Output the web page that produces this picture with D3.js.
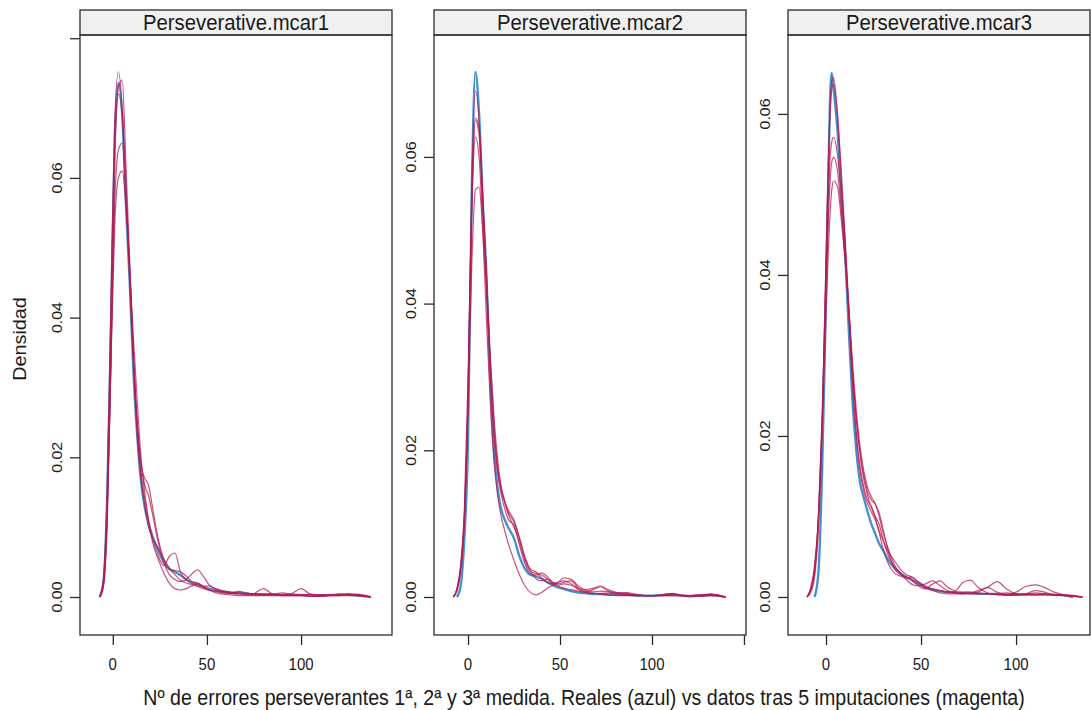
<!DOCTYPE html>
<html><head><meta charset="utf-8">
<script src="https://cdn.jsdelivr.net/npm/d3@7"></script>
<style>
body{margin:0;background:#fff}
text{font-family:"Liberation Sans",Arial,Helvetica,sans-serif;fill:#1a1a1a}
</style>
</head><body>
<svg id="chart" width="1091" height="710"></svg>
<script>
// ---------------- DATA ----------------
const panelNames = ["Perseverative.mcar1", "Perseverative.mcar2", "Perseverative.mcar3"];

// Panel 1: evaluation grid, observed density, 5 imputed densities
const gridMcar1 = [-7,-5,-3,-1,1,3,5,7,9,11,13,15,17,19,21,24,27,30,33,36,39,42,45,48,51,55,59,63,67,71,75,80,85,90,95,100,105,110,115,120,125,130,137];
const obsMcar1 = [0,0.0020,0.0140,0.0380,0.0650,0.0736,0.0690,0.0560,0.0450,0.0320,0.0230,0.0165,0.0128,0.0105,0.0088,0.0068,0.0050,0.0040,0.0036,0.0031,0.0025,0.0020,0.0019,0.0015,0.0012,0.0010,0.0008,0.0006,0.0006,0.0005,0.0004,0.0004,0.0004,0.0003,0.0003,0.0003,0.0002,0.0002,0.0003,0.0003,0.0003,0.0002,0];
const impMcar1_1 = [0,0.0025,0.0150,0.0420,0.0680,0.0752,0.0700,0.0580,0.0450,0.0330,0.0240,0.0180,0.0140,0.0110,0.0085,0.0060,0.0045,0.0058,0.0063,0.0035,0.0025,0.0022,0.0020,0.0015,0.0010,0.0008,0.0006,0.0005,0.0004,0.0004,0.0005,0.0012,0.0004,0.0002,0.0002,0.0002,0.0001,0.0001,0.0002,0.0004,0.0005,0.0003,0];
const impMcar1_2 = [0,0.0018,0.0110,0.0330,0.0560,0.0640,0.0650,0.0580,0.0470,0.0350,0.0250,0.0190,0.0160,0.0145,0.0120,0.0080,0.0050,0.0032,0.0025,0.0022,0.0025,0.0033,0.0039,0.0030,0.0018,0.0010,0.0008,0.0006,0.0005,0.0004,0.0004,0.0004,0.0003,0.0003,0.0005,0.0012,0.0004,0.0002,0.0002,0.0002,0.0003,0.0004,0];
const impMcar1_3 = [0,0.0020,0.0120,0.0330,0.0530,0.0600,0.0610,0.0560,0.0470,0.0370,0.0280,0.0200,0.0150,0.0110,0.0080,0.0055,0.0035,0.0020,0.0012,0.0010,0.0012,0.0016,0.0018,0.0014,0.0010,0.0006,0.0004,0.0003,0.0002,0.0002,0.0002,0.0002,0.0002,0.0002,0.0002,0.0002,0.0001,0.0001,0.0002,0.0002,0.0004,0.0003,0];
const impMcar1_4 = [0,0.0022,0.0140,0.0400,0.0650,0.0720,0.0690,0.0580,0.0460,0.0340,0.0250,0.0190,0.0170,0.0160,0.0130,0.0085,0.0055,0.0040,0.0038,0.0036,0.0030,0.0022,0.0016,0.0015,0.0016,0.0012,0.0008,0.0007,0.0006,0.0004,0.0003,0.0003,0.0004,0.0006,0.0004,0.0003,0.0004,0.0003,0.0003,0.0002,0.0002,0.0002,0];
const impMcar1_5 = [0,0.0015,0.0100,0.0340,0.0620,0.0730,0.0740,0.0620,0.0480,0.0340,0.0230,0.0170,0.0130,0.0100,0.0085,0.0070,0.0055,0.0042,0.0032,0.0024,0.0020,0.0018,0.0015,0.0012,0.0010,0.0008,0.0006,0.0006,0.0008,0.0006,0.0004,0.0003,0.0003,0.0003,0.0003,0.0003,0.0003,0.0003,0.0003,0.0004,0.0003,0.0002,0];

// Panel 2
const gridMcar2 = [-8,-6,-4,-2,0,2,4,6,8,10,12,14,16,18,20,22,25,28,31,34,37,40,43,46,49,52,56,60,64,68,72,76,81,86,91,96,101,106,111,116,121,126,132,140];
const obsMcar2 = [null,0,0.0015,0.0080,0.0210,0.0550,0.0716,0.0660,0.0540,0.0440,0.0300,0.0200,0.0150,0.0120,0.0105,0.0094,0.0080,0.0055,0.0038,0.0030,0.0028,0.0025,0.0020,0.0016,0.0013,0.0011,0.0008,0.0006,0.0005,0.0004,0.0004,0.0003,0.0003,0.0003,0.0002,0.0002,0.0002,0.0003,0.0004,0.0002,0.0001,0.0002,0.0003,0];
const impMcar2_1 = [0,0.0010,0.0040,0.0110,0.0280,0.0560,0.0690,0.0650,0.0540,0.0430,0.0310,0.0220,0.0170,0.0140,0.0120,0.0105,0.0098,0.0070,0.0045,0.0032,0.0030,0.0033,0.0028,0.0020,0.0015,0.0012,0.0010,0.0008,0.0006,0.0005,0.0004,0.0003,0.0002,0.0002,0.0002,0.0002,0.0002,0.0003,0.0005,0.0002,0.0001,0.0001,0.0002,0];
const impMcar2_2 = [0,0.0008,0.0035,0.0100,0.0260,0.0520,0.0650,0.0630,0.0540,0.0440,0.0330,0.0240,0.0180,0.0150,0.0130,0.0115,0.0102,0.0080,0.0055,0.0035,0.0025,0.0022,0.0024,0.0020,0.0018,0.0020,0.0022,0.0012,0.0007,0.0010,0.0014,0.0008,0.0004,0.0003,0.0002,0.0002,0.0002,0.0002,0.0002,0.0002,0.0002,0.0003,0.0004,0];
const impMcar2_3 = [0,0.0012,0.0045,0.0120,0.0300,0.0530,0.0627,0.0600,0.0500,0.0380,0.0270,0.0190,0.0140,0.0110,0.0090,0.0072,0.0050,0.0030,0.0015,0.0006,0.0003,0.0006,0.0012,0.0016,0.0020,0.0026,0.0024,0.0015,0.0010,0.0012,0.0015,0.0010,0.0006,0.0004,0.0003,0.0002,0.0002,0.0002,0.0003,0.0002,0.0001,0.0001,0.0002,0];
const impMcar2_4 = [0,0.0010,0.0040,0.0110,0.0260,0.0450,0.0555,0.0559,0.0500,0.0420,0.0330,0.0250,0.0190,0.0150,0.0130,0.0118,0.0105,0.0080,0.0050,0.0035,0.0032,0.0030,0.0025,0.0018,0.0016,0.0018,0.0016,0.0012,0.0009,0.0007,0.0008,0.0007,0.0006,0.0005,0.0003,0.0002,0.0002,0.0002,0.0002,0.0002,0.0002,0.0003,0.0003,0];
const impMcar2_5 = [0,0.0010,0.0038,0.0105,0.0270,0.0540,0.0653,0.0640,0.0550,0.0440,0.0320,0.0230,0.0175,0.0145,0.0128,0.0112,0.0095,0.0075,0.0050,0.0038,0.0034,0.0026,0.0020,0.0018,0.0020,0.0022,0.0018,0.0010,0.0007,0.0005,0.0005,0.0005,0.0005,0.0006,0.0004,0.0002,0.0002,0.0003,0.0004,0.0003,0.0002,0.0002,0.0004,0];

// Panel 3
const gridMcar3 = [-10,-8,-6,-4,-2,0,2,3,4,6,8,10,12,14,16,18,20,22,24,26,28,30,33,36,39,42,45,48,52,56,60,64,68,72,76,80,85,90,95,100,105,110,115,120,125,130,135];
const obsMcar3 = [null,null,0,0.0030,0.0160,0.0370,0.0610,0.0651,0.0630,0.0580,0.0500,0.0430,0.0330,0.0240,0.0180,0.0141,0.0122,0.0105,0.0090,0.0078,0.0066,0.0058,0.0045,0.0036,0.0030,0.0025,0.0021,0.0017,0.0012,0.0009,0.0007,0.0006,0.0006,0.0005,0.0005,0.0004,0.0004,0.0004,0.0003,0.0003,0.0003,0.0003,0.0003,0.0003,0.0002,0,null];
const impMcar3_1 = [0,0.0008,0.0030,0.0090,0.0220,0.0420,0.0600,0.0640,0.0645,0.0600,0.0520,0.0440,0.0350,0.0260,0.0200,0.0160,0.0135,0.0120,0.0110,0.0098,0.0080,0.0060,0.0040,0.0030,0.0026,0.0024,0.0022,0.0018,0.0012,0.0010,0.0008,0.0006,0.0005,0.0004,0.0004,0.0006,0.0012,0.0006,0.0003,0.0003,0.0004,0.0008,0.0006,0.0003,0.0003,0.0002,0];
const impMcar3_2 = [0,0.0010,0.0035,0.0100,0.0230,0.0400,0.0540,0.0565,0.0571,0.0550,0.0500,0.0430,0.0360,0.0280,0.0220,0.0180,0.0150,0.0130,0.0120,0.0115,0.0104,0.0085,0.0055,0.0035,0.0028,0.0025,0.0022,0.0015,0.0010,0.0016,0.0020,0.0012,0.0008,0.0018,0.0021,0.0012,0.0005,0.0003,0.0002,0.0002,0.0003,0.0005,0.0004,0.0003,0.0002,0.0001,0];
const impMcar3_3 = [0,0.0010,0.0035,0.0100,0.0220,0.0380,0.0510,0.0540,0.0546,0.0530,0.0480,0.0420,0.0350,0.0280,0.0220,0.0175,0.0145,0.0125,0.0112,0.0100,0.0090,0.0072,0.0050,0.0038,0.0030,0.0024,0.0025,0.0020,0.0012,0.0008,0.0005,0.0004,0.0004,0.0004,0.0005,0.0008,0.0012,0.0019,0.0010,0.0004,0.0003,0.0003,0.0004,0.0003,0.0002,0.0001,0];
const impMcar3_4 = [0,0.0012,0.0040,0.0100,0.0210,0.0350,0.0470,0.0505,0.0517,0.0510,0.0470,0.0420,0.0360,0.0290,0.0230,0.0185,0.0155,0.0135,0.0124,0.0115,0.0100,0.0080,0.0058,0.0040,0.0030,0.0022,0.0016,0.0014,0.0016,0.0020,0.0014,0.0008,0.0006,0.0006,0.0006,0.0005,0.0004,0.0003,0.0003,0.0006,0.0013,0.0015,0.0012,0.0006,0.0003,0.0001,0];
const impMcar3_5 = [0,0.0006,0.0025,0.0085,0.0210,0.0420,0.0590,0.0630,0.0637,0.0600,0.0530,0.0450,0.0360,0.0270,0.0200,0.0155,0.0130,0.0115,0.0105,0.0095,0.0082,0.0070,0.0055,0.0045,0.0035,0.0028,0.0025,0.0020,0.0014,0.0010,0.0008,0.0006,0.0005,0.0005,0.0004,0.0004,0.0004,0.0004,0.0005,0.0004,0.0004,0.0003,0.0003,0.0002,0.0002,0.0001,0];

// Axis ranges and ticks (each panel has its own free scales)
const xDomains = [[-17.4, 148.3], [-18.5, 151.1], [-20, 138.9]];
const yDomains = [[-0.00544, 0.08046], [-0.00518, 0.07662], [-0.00472, 0.0698]];
const xTicks = [[0, 50, 100], [0, 50, 100, 150], [0, 50, 100]];
const xTickLabels = [["0", "50", "100"], ["0", "50", "100", ""], ["0", "50", "100"]];
const yTicks = [[0, 0.02, 0.04, 0.06, 0.08], [0, 0.02, 0.04, 0.06], [0, 0.02, 0.04, 0.06]];
const yTickLabels = [["0.00", "0.02", "0.04", "0.06", ""], ["0.00", "0.02", "0.04", "0.06"], ["0.00", "0.02", "0.04", "0.06"]];

const yLabel = "Densidad";
const xLabel = "Nº de errores perseverantes 1ª, 2ª y 3ª medida. Reales (azul) vs datos tras 5 imputaciones (magenta)";

// ---------------- LAYOUT / STYLE ----------------
const panels = [
  {grid: gridMcar1, obs: obsMcar1, imp: [impMcar1_1, impMcar1_2, impMcar1_3, impMcar1_4, impMcar1_5]},
  {grid: gridMcar2, obs: obsMcar2, imp: [impMcar2_1, impMcar2_2, impMcar2_3, impMcar2_4, impMcar2_5]},
  {grid: gridMcar3, obs: obsMcar3, imp: [impMcar3_1, impMcar3_2, impMcar3_3, impMcar3_4, impMcar3_5]}
];
const panelLeft = [80, 434, 788];
const panelRight = [392, 746, 1090];
const stripTop = 10, plotTop = 35, plotBottom = 635;
const frameColor = "#2b2b2b";
const obsColor = "#006CC2", impColor = "#B61A51";
const vStretch = 1.1; // glyphs in the reference are slightly taller than wide

const svg = d3.select("#chart");

function hText(parent, x, y, str, size, anchor) {
  return parent.append("text")
    .attr("transform", `translate(${x},${y}) scale(1,${vStretch})`)
    .attr("text-anchor", anchor || "middle").style("font-size", size + "px").text(str);
}
function vText(parent, x, y, str, size) {
  return parent.append("text")
    .attr("transform", `translate(${x},${y}) rotate(-90) scale(${vStretch},1)`)
    .attr("dy", "0.36em").attr("text-anchor", "middle").style("font-size", size + "px").text(str);
}

panels.forEach((p, i) => {
  const L = panelLeft[i], R = panelRight[i];
  const x = d3.scaleLinear().domain(xDomains[i]).range([L, R]);
  const y = d3.scaleLinear().domain(yDomains[i]).range([plotBottom, plotTop]);
  const g = svg.append("g");

  const clipId = "clip" + i;
  svg.append("clipPath").attr("id", clipId).append("rect")
    .attr("x", L).attr("y", plotTop).attr("width", R - L).attr("height", plotBottom - plotTop);

  // strip
  g.append("rect").attr("x", L).attr("y", stripTop).attr("width", R - L).attr("height", plotTop - stripTop)
    .attr("fill", "#f0f0f0").attr("stroke", frameColor).attr("stroke-width", 1.3);
  hText(g, (L + R) / 2, 30, panelNames[i], 20.3);

  // density lines
  const line = d3.line()
    .defined(d => d[1] !== null)
    .x(d => x(d[0])).y(d => y(d[1]))
    .curve(d3.curveMonotoneX);
  const lg = g.append("g").attr("clip-path", `url(#${clipId})`);
  lg.append("path").datum(p.grid.map((v, k) => [v, p.obs[k]]))
    .attr("d", line).attr("fill", "none").attr("stroke", obsColor)
    .attr("stroke-opacity", 0.75).attr("stroke-width", 2.3).attr("stroke-linejoin", "round");
  p.imp.forEach(s => {
    lg.append("path").datum(p.grid.map((v, k) => [v, s[k]]))
      .attr("d", line).attr("fill", "none").attr("stroke", impColor)
      .attr("stroke-opacity", 0.75).attr("stroke-width", 1.2).attr("stroke-linejoin", "round");
  });

  // panel frame
  g.append("rect").attr("x", L).attr("y", plotTop).attr("width", R - L).attr("height", plotBottom - plotTop)
    .attr("fill", "none").attr("stroke", frameColor).attr("stroke-width", 1.3);

  // x axis ticks
  const xa = g.append("g").attr("transform", `translate(0,${plotBottom})`)
    .call(d3.axisBottom(x).tickValues(xTicks[i]).tickSize(10).tickFormat(""));
  xa.select(".domain").remove();
  xa.selectAll("line").attr("stroke", frameColor).attr("stroke-width", 1.3);
  xTicks[i].forEach((t, k) => hText(g, x(t), 670, xTickLabels[i][k], 15));

  // y axis ticks
  const ya = g.append("g").attr("transform", `translate(${L},0)`)
    .call(d3.axisLeft(y).tickValues(yTicks[i]).tickSize(10).tickFormat(""));
  ya.select(".domain").remove();
  ya.selectAll("line").attr("stroke", frameColor).attr("stroke-width", 1.3);
  yTicks[i].forEach((t, k) => vText(g, L - 23, y(t), yTickLabels[i][k], 14.5));
});

// axis titles
vText(svg, 20, 339, yLabel, 18);
hText(svg, 584, 705, xLabel, 19.6);
</script>
</body></html>
